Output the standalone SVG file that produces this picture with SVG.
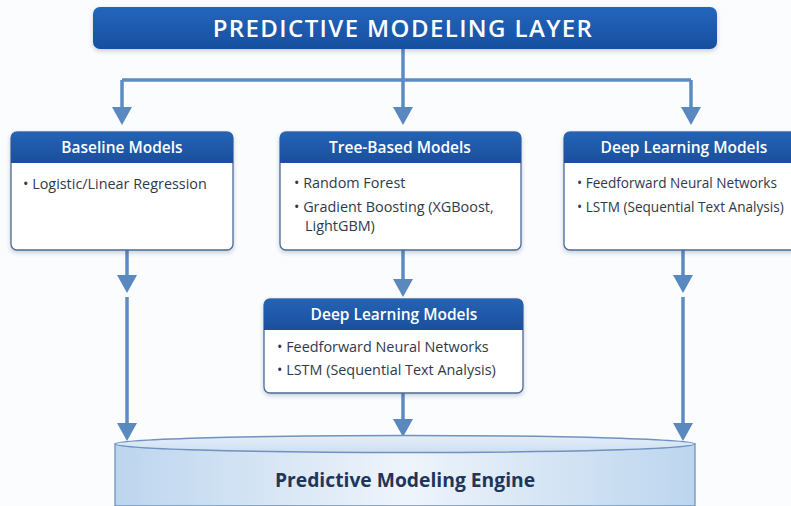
<svg xmlns="http://www.w3.org/2000/svg" width="791" height="506" viewBox="0 0 791 506">
  <style>
    .title { font-family: "Open Sans", "Noto Sans", sans-serif; font-weight: 600; font-size: 24px; letter-spacing: 1.4px; fill: #ffffff; }
    .head { font-family: "Open Sans", "Noto Sans", sans-serif; font-weight: 600; font-size: 15.5px; fill: #ffffff; }
    .item { font-family: "Open Sans", "Noto Sans", sans-serif; font-size: 14.4px; fill: #2e3a4c; }
    .item.tight { font-size: 13.6px; }
    .engine { font-family: "Open Sans", "Noto Sans", sans-serif; font-weight: 700; font-size: 19.3px; fill: #1f3658; }
    .card { fill: #ffffff; stroke: #4d6b94; stroke-width: 1.3; }
    .band { fill: url(#bandGrad); }
    .wire { fill: none; stroke: #5c8cc3; stroke-width: 3.5; }
    .tip { fill: #5a89c0; }
  </style>
  <defs>
    <linearGradient id="barGrad" x1="0" y1="0" x2="0" y2="1">
      <stop offset="0" stop-color="#2466bd"/>
      <stop offset="1" stop-color="#174f9f"/>
    </linearGradient>
    <linearGradient id="bandGrad" x1="0" y1="0" x2="0" y2="1">
      <stop offset="0" stop-color="#2463b6"/>
      <stop offset="1" stop-color="#1a4f9c"/>
    </linearGradient>
    <linearGradient id="drumGrad" x1="0" y1="0" x2="1" y2="0">
      <stop offset="0" stop-color="#bcd5ee"/>
      <stop offset="0.5" stop-color="#eef4fb"/>
      <stop offset="1" stop-color="#bcd5ee"/>
    </linearGradient>
    <linearGradient id="lidGrad" x1="0" y1="0" x2="0" y2="1">
      <stop offset="0" stop-color="#e6eef8"/>
      <stop offset="1" stop-color="#cddff2"/>
    </linearGradient>
    <filter id="shadow" x="-10%" y="-10%" width="120%" height="130%">
      <feDropShadow dx="0" dy="2" stdDeviation="2" flood-color="#1a3a6a" flood-opacity="0.25"/>
    </filter>
    <path id="arrowHead" d="M-10,-18 L10,-18 L0,0 Z"/>
  </defs>

  <rect x="0" y="0" width="791" height="506" fill="#fbfcfe"/>

  <!-- connectors -->
  <g id="connectors">
    <path class="wire" d="M403,49 V80 M122,80 H691 M122,80 V108 M403,80 V108 M691,80 V108"/>
    <use href="#arrowHead" class="tip" x="122" y="125"/>
    <use href="#arrowHead" class="tip" x="403" y="125"/>
    <use href="#arrowHead" class="tip" x="691" y="125"/>

    <path class="wire" d="M127,250 V276 M127,297 V424"/>
    <use href="#arrowHead" class="tip" x="127" y="293"/>
    <use href="#arrowHead" class="tip" x="127" y="441"/>

    <path class="wire" d="M403,250 V280 M403,393 V420"/>
    <use href="#arrowHead" class="tip" x="403" y="297"/>
    <use href="#arrowHead" class="tip" x="403" y="437"/>

    <path class="wire" d="M683,250 V276 M683,297 V424"/>
    <use href="#arrowHead" class="tip" x="683" y="293"/>
    <use href="#arrowHead" class="tip" x="683" y="441"/>
  </g>

  <!-- layer title bar -->
  <g id="layer-title">
    <rect x="93" y="7" width="624" height="42" rx="7" fill="url(#barGrad)" filter="url(#shadow)"/>
    <text class="title" x="403" y="37" text-anchor="middle">PREDICTIVE MODELING LAYER</text>
  </g>

  <!-- baseline models -->
  <g id="baseline-models">
    <rect class="card" x="11" y="132" width="222" height="118" rx="6" filter="url(#shadow)"/>
    <path class="band" d="M11,163 V138 Q11,132 17,132 H227 Q233,132 233,138 V163 Z"/>
    <text class="head" x="122" y="153" text-anchor="middle">Baseline Models</text>
    <text class="item" x="23" y="189">• Logistic/Linear Regression</text>
  </g>

  <!-- tree-based models -->
  <g id="tree-models">
    <rect class="card" x="280" y="132" width="241" height="118" rx="6" filter="url(#shadow)"/>
    <path class="band" d="M280,163 V138 Q280,132 286,132 H515 Q521,132 521,138 V163 Z"/>
    <text class="head" x="400" y="153" text-anchor="middle">Tree-Based Models</text>
    <text class="item" x="294" y="188">• Random Forest</text>
    <text class="item" x="294" y="212">• Gradient Boosting (XGBoost,</text>
    <text class="item" x="305" y="231">LightGBM)</text>
  </g>

  <!-- deep learning models (right) -->
  <g id="deep-models-right">
    <rect class="card" x="564" y="132" width="242" height="118" rx="6" filter="url(#shadow)"/>
    <path class="band" d="M564,163 V138 Q564,132 570,132 H800 Q806,132 806,138 V163 Z"/>
    <text class="head" x="684" y="153" text-anchor="middle">Deep Learning Models</text>
    <text class="item tight" x="577" y="188">• Feedforward Neural Networks</text>
    <text class="item tight" x="577" y="212">• LSTM (Sequential Text Analysis)</text>
  </g>

  <!-- deep learning models (middle) -->
  <g id="deep-models-mid">
    <rect class="card" x="264" y="299" width="259" height="94" rx="6" filter="url(#shadow)"/>
    <path class="band" d="M264,330 V305 Q264,299 270,299 H517 Q523,299 523,305 V330 Z"/>
    <text class="head" x="394" y="320" text-anchor="middle">Deep Learning Models</text>
    <text class="item" x="277" y="352">• Feedforward Neural Networks</text>
    <text class="item" x="277" y="375">• LSTM (Sequential Text Analysis)</text>
  </g>

  <!-- engine drum -->
  <g id="engine">
    <path d="M115,444 V506 H695 V444 Z" fill="url(#drumGrad)" stroke="#6f92bf" stroke-width="1.3"/>
    <ellipse cx="405" cy="444" rx="290" ry="8.5" fill="url(#lidGrad)" stroke="#6f92bf" stroke-width="1.5"/>
    <text class="engine" x="405" y="487" text-anchor="middle">Predictive Modeling Engine</text>
  </g>
</svg>
